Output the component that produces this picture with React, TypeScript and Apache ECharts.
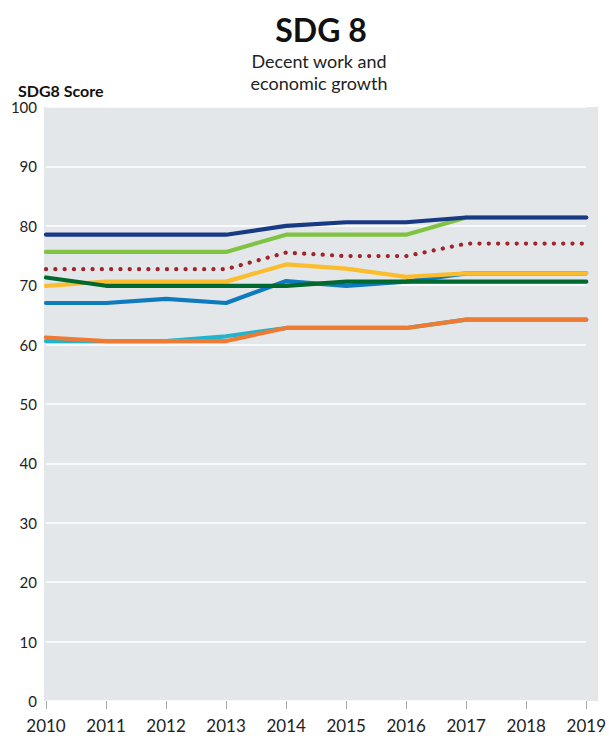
import React, { useEffect, useRef } from "react";
import * as echarts from "echarts";

const years = ["2010", "2011", "2012", "2013", "2014", "2015", "2016", "2017", "2018", "2019"];

const navy = [78.5, 78.5, 78.5, 78.5, 80.0, 80.6, 80.6, 81.4, 81.4, 81.4];
const lightGreen = [75.6, 75.6, 75.6, 75.6, 78.5, 78.5, 78.5, 81.4, 81.4, 81.4];
const dottedRed = [72.7, 72.7, 72.7, 72.7, 75.5, 74.9, 74.9, 77.0, 77.0, 77.0];
const yellow = [69.9, 70.6, 70.6, 70.6, 73.5, 72.8, 71.4, 72.0, 72.0, 72.0];
const blue = [67.0, 67.0, 67.7, 67.0, 70.7, 69.9, 70.6, 72.0, 72.0, 72.0];
const darkGreen = [71.3, 69.9, 69.9, 69.9, 69.9, 70.6, 70.6, 70.6, 70.6, 70.6];
const cyan = [60.6, 60.6, 60.6, 61.4, 62.8, 62.8, 62.8, 64.2, 64.2, 64.2];
const orange = [61.2, 60.6, 60.6, 60.6, 62.8, 62.8, 62.8, 64.2, 64.2, 64.2];

const FONT = "Lato, 'Noto Sans', sans-serif";

export default function App() {
  const ref = useRef<HTMLDivElement>(null);
  useEffect(() => {
    document.body.style.margin = "0";
    document.body.style.overflow = "hidden";
    if (!ref.current) return;
    const chart = echarts.init(ref.current, null, { renderer: "svg", width: 609, height: 740 });
    const line = (name: string, data: number[], color: string, extra: any = {}) => ({
      name,
      type: "line",
      data,
      symbol: "none",
      lineStyle: { color, width: 4.2, cap: "round", join: "round", ...extra },
      z: 3,
    });
    chart.setOption({
      animation: false,
      textStyle: { fontFamily: FONT },
      title: [
        {
          text: "SDG 8",
          left: 316,
          textAlign: "center",
          top: 8,
          textStyle: { fontSize: 32, fontWeight: "bold", color: "#111", fontFamily: FONT },
        },
        {
          text: "Decent work and",
          left: 314,
          textAlign: "center",
          top: 45,
          textStyle: { fontSize: 18, fontWeight: "normal", color: "#222", lineHeight: 22, fontFamily: FONT },
        },
        {
          text: "economic growth",
          left: 314,
          textAlign: "center",
          top: 67,
          textStyle: { fontSize: 18, fontWeight: "normal", color: "#222", lineHeight: 22, fontFamily: FONT },
        },
        {
          text: "SDG8 Score",
          left: 13,
          top: 77,
          textStyle: { fontSize: 16, fontWeight: "bold", color: "#111", fontFamily: FONT },
        },
      ],
      graphic: [
        {
          type: "rect",
          z: -10,
          silent: true,
          shape: { x: 44, y: 107, width: 554, height: 594 },
          style: { fill: "#e4e7e9" },
        },
      ],
      grid: {
        left: 46,
        right: 13,
        top: 107,
        bottom: 39,
        show: false,
      },
      xAxis: {
        type: "category",
        data: years,
        boundaryGap: false,
        offset: 4,
        axisLine: { show: false },
        axisTick: { show: true, length: 8, lineStyle: { color: "#aaa", width: 1 } },
        axisLabel: { color: "#222", fontSize: 17, margin: 12, fontFamily: FONT },
        splitLine: { show: false },
      },
      yAxis: {
        type: "value",
        min: 0,
        max: 100,
        interval: 10,
        axisLine: { show: false },
        axisTick: { show: false },
        axisLabel: { color: "#222", fontSize: 15, margin: 9, fontFamily: FONT },
        splitLine: { show: true, lineStyle: { color: "#ffffff", width: 1.5 } },
      },
      series: [
        line("Cyan", cyan, "#21b4cc"),
        line("Orange", orange, "#ef7a33"),
        line("Blue", blue, "#0f7bbf"),
        line("Yellow", yellow, "#fbbd2e"),
        line("Dark green", darkGreen, "#00692f"),
        line("Average", dottedRed, "#a3232a", { type: [0.1, 9.2], width: 4.2 }),
        line("Light green", lightGreen, "#80c242"),
        line("Navy", navy, "#183a85"),
      ],
    });
    return () => chart.dispose();
  }, []);
  return <div ref={ref} style={{ width: 609, height: 740, position: "absolute", left: 0, top: 0 }} />;
}
